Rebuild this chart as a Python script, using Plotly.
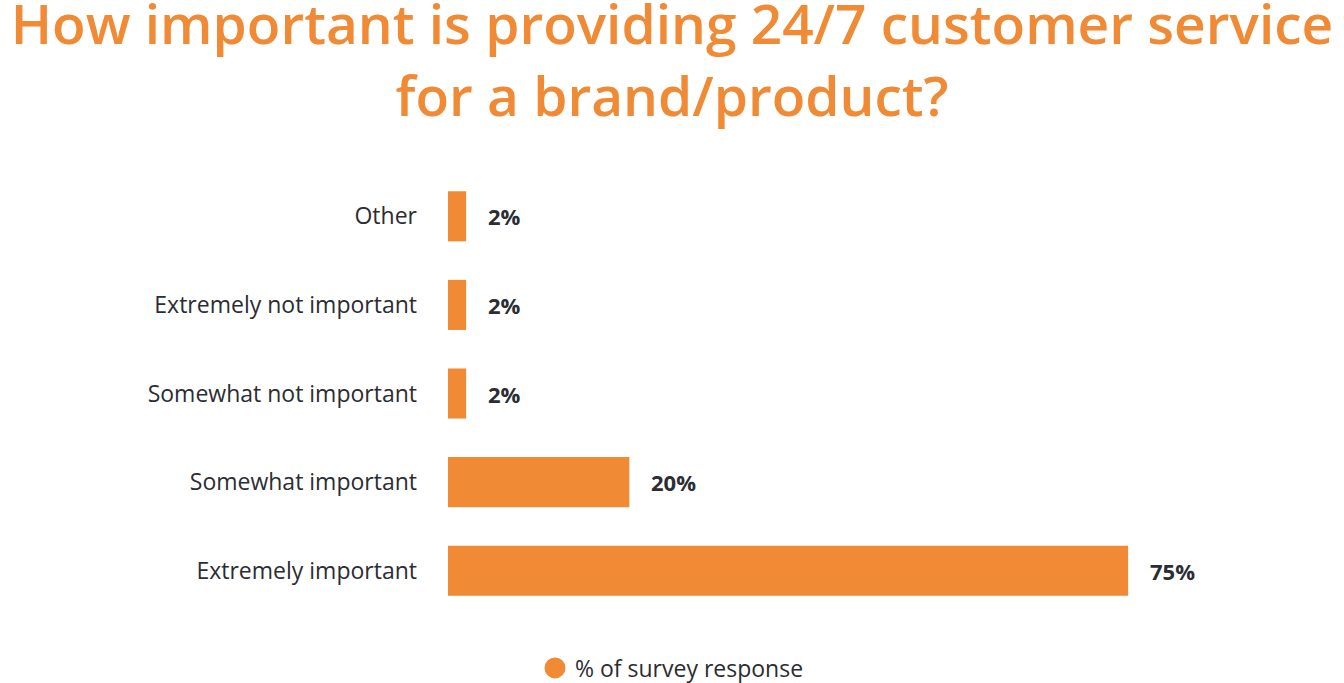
import plotly.graph_objects as go

categories = ["Extremely important", "Somewhat important", "Somewhat not important",
              "Extremely not important", "Other"]
values = [75, 20, 2, 2, 2]
value_labels = ["75%", "20%", "2%", "2%", "2%"]
series_name = "% of survey response"
title_text = "How important is providing 24/7 customer service<br>for a brand/product?"

ORANGE = "#F08A35"
DARK = "#2B2D33"

fig = go.Figure()
fig.add_trace(go.Bar(
    y=categories, x=values, orientation="h",
    marker=dict(color=ORANGE, line=dict(width=0)),
    width=0.565, showlegend=False, hoverinfo="x+y",
))
fig.add_trace(go.Scatter(
    x=[None], y=[None], mode="markers", name=series_name,
    marker=dict(color=ORANGE, size=26, symbol="circle",
                line=dict(color=ORANGE, width=5)),
    showlegend=True,
))

for c, v, t in zip(categories, values, value_labels):
    fig.add_annotation(x=v, y=c, text="<b>" + t + "</b>", showarrow=False,
                       xanchor="left", xshift=20,
                       font=dict(family="Open Sans", size=22, color=DARK))

fig.update_layout(
    width=1344, height=683,
    margin=dict(l=448, r=20, t=172, b=68),
    paper_bgcolor="white", plot_bgcolor="white",
    title=dict(
        text=title_text,
        x=0.5, xanchor="center", xref="container",
        y=0.935, yanchor="middle", yref="container",
        font=dict(family="Open Sans", size=55, color=ORANGE, weight=600),
    ),
    xaxis=dict(range=[0, 96.6], visible=False, fixedrange=True),
    yaxis=dict(categoryorder="array", categoryarray=categories,
               showgrid=False, zeroline=False, showline=False, ticks="",
               ticklabelstandoff=30,
               tickfont=dict(family="Open Sans", size=23, color=DARK),
               range=[-0.5, 4.5]),
    legend=dict(orientation="h", x=0.5, xanchor="center", xref="container",
                y=0.022, yanchor="middle", yref="container",
                font=dict(family="Open Sans", size=23, color=DARK),
                itemsizing="trace"),
    showlegend=True,
)

fig.write_html("out.html")
